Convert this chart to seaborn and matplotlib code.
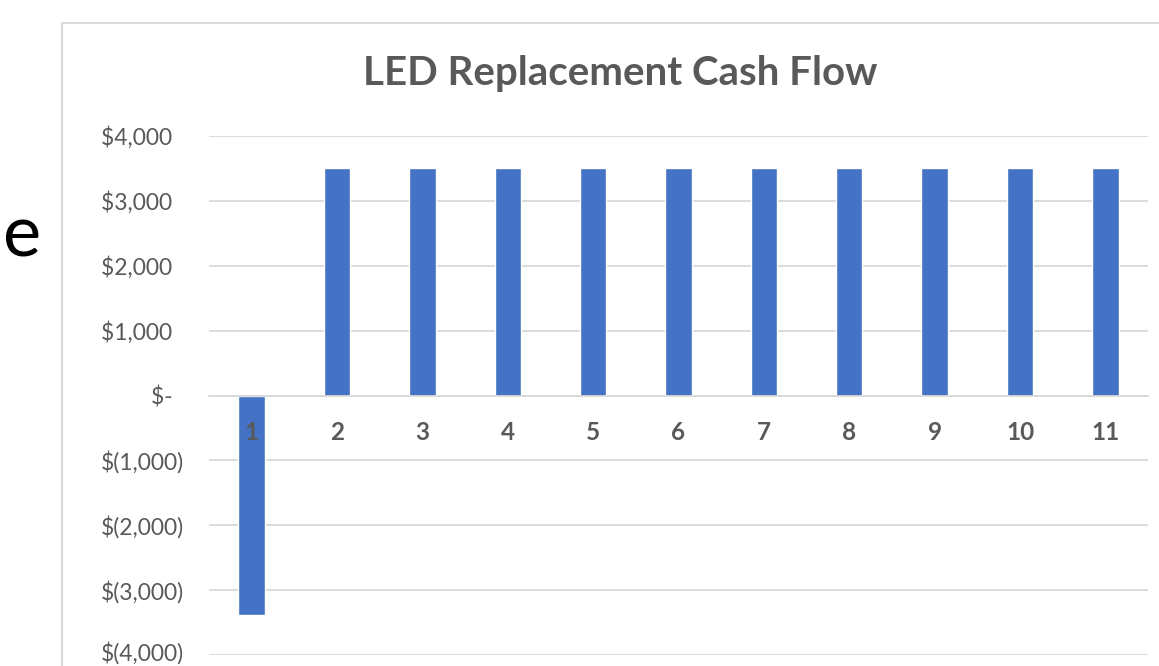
import matplotlib
matplotlib.use("Agg")
import matplotlib.pyplot as plt
import matplotlib.transforms as mtransforms
import seaborn as sns
import pandas as pd
from matplotlib.patches import Rectangle

# Data
periods = ["1", "2", "3", "4", "5", "6", "7", "8", "9", "10", "11"]
cash_flow = [-3380, 3500, 3500, 3500, 3500, 3500, 3500, 3500, 3500, 3500, 3500]
y_ticks = [-4000, -3000, -2000, -1000, 0, 1000, 2000, 3000, 4000]
y_tick_labels = ["$(4,000)", "$(3,000)", "$(2,000)", "$(1,000)", "$-  ",
                 "$1,000  ", "$2,000  ", "$3,000  ", "$4,000  "]
title = "LED Replacement Cash Flow"

sns.set_theme(style="white")
plt.rcParams["font.family"] = ["Lato", "DejaVu Sans"]

TEXT = "#595959"
BAR = "#4472C4"
GRID = "#D9D9D9"

W, H = 1159, 666
fig = plt.figure(figsize=(W / 100, H / 100), dpi=100)

# chart border (extends past the right/bottom of the crop)
fig.patches.append(Rectangle((62 / W, -0.1), 1.2, 1 - 23 / H + 0.1,
                             transform=fig.transFigure, fill=False,
                             edgecolor=GRID, linewidth=1.5))

ax = fig.add_axes([209 / W, 1 - 655 / H, 939 / W, 519 / H])
df = pd.DataFrame({"period": periods, "value": cash_flow})
sns.barplot(data=df, x="period", y="value", color=BAR, width=0.31,
            saturation=1, ax=ax)

ax.set_ylim(-4000, 4000)
ax.set_xlim(-0.5, len(periods) - 0.5)
ax.set_yticks(y_ticks)
ax.set_yticklabels(y_tick_labels)
ax.yaxis.grid(True, color=GRID, linewidth=1.3)
ax.set_axisbelow(True)
for s in ["top", "right", "left"]:
    ax.spines[s].set_visible(False)
ax.spines["bottom"].set_position(("data", 0))
ax.spines["bottom"].set_color(GRID)
ax.spines["bottom"].set_linewidth(1.3)
ax.tick_params(axis="y", length=0, pad=18, labelsize=16.5, labelcolor=TEXT)
ax.tick_params(axis="x", length=0, pad=18, labelsize=17.5, labelcolor=TEXT)
for lbl in ax.get_xticklabels():
    lbl.set_fontweight("bold")
ax.xaxis.set_zorder(5)
ax.set_xlabel("")
ax.set_ylabel("")

# nudge the lowest y label up a touch so it stays inside the image
low = ax.get_yticklabels()[0]
low.set_transform(low.get_transform() +
                  mtransforms.ScaledTranslation(0, 4 / 100, fig.dpi_scale_trans))

fig.text(620 / W, 1 - 73 / H, title, ha="center", va="center",
         fontsize=29, fontweight="bold", color=TEXT)

# stray slide text at the left edge
fig.text(3 / W, 1 - 236 / H, "e", ha="left", va="center",
         fontsize=52, color="black")

fig.savefig("out.png", dpi=100)
